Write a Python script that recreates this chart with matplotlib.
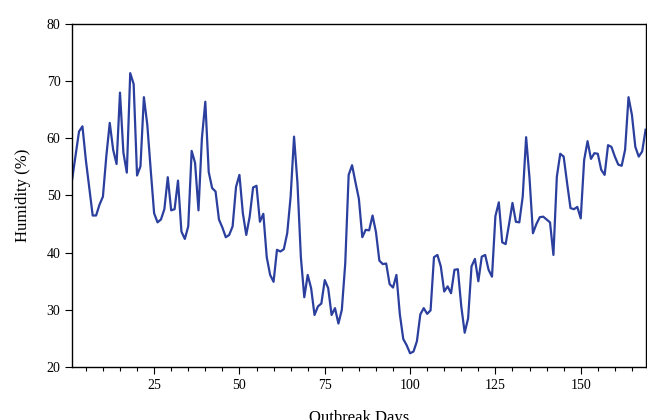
# Humidity over outbreak days - line chart
import numpy as np
import matplotlib.pyplot as plt
from matplotlib.ticker import MultipleLocator

# daily humidity values (days 1..169)
days = np.arange(1, 170)
humidity = [
    52.9, 57.0, 61.2, 62.1, 56.2, 51.4, 46.5, 46.5, 48.4, 49.8,
    56.9, 62.7, 58.0, 55.5, 68.0, 57.5, 54.0, 71.4, 69.5, 53.5,
    55.1, 67.2, 62.4, 54.5, 46.9, 45.3, 45.8, 47.6, 53.2, 47.4,
    47.6, 52.6, 43.7, 42.4, 44.6, 57.8, 55.7, 47.4, 60.0, 66.4,
    54.1, 51.3, 50.7, 45.8, 44.4, 42.7, 43.1, 44.6, 51.5, 53.6,
    46.9, 43.1, 46.3, 51.4, 51.7, 45.4, 46.8, 39.2, 36.1, 34.9,
    40.5, 40.2, 40.6, 43.4, 49.8, 60.3, 52.2, 39.2, 32.2, 36.1,
    33.8, 29.1, 30.6, 31.1, 35.2, 33.8, 29.1, 30.3, 27.6, 30.0,
    38.1, 53.6, 55.3, 52.3, 49.4, 42.7, 44.0, 43.9, 46.5, 43.6,
    38.6, 38.0, 38.1, 34.5, 33.9, 36.1, 29.2, 24.9, 23.8, 22.4,
    22.7, 24.5, 29.2, 30.3, 29.3, 29.9, 39.2, 39.6, 37.6, 33.2,
    34.1, 32.9, 37.0, 37.1, 30.6, 26.0, 28.5, 37.6, 38.9, 35.0,
    39.3, 39.6, 37.0, 35.8, 46.4, 48.8, 41.8, 41.5, 45.0, 48.7,
    45.4, 45.3, 49.8, 60.2, 53.0, 43.4, 45.0, 46.2, 46.3, 45.8,
    45.3, 39.6, 53.3, 57.3, 56.8, 52.2, 47.8, 47.6, 48.0, 46.0,
    56.2, 59.5, 56.4, 57.4, 57.3, 54.5, 53.6, 58.8, 58.5, 56.8,
    55.4, 55.2, 58.0, 67.2, 64.1, 58.5, 56.8, 57.7, 61.5,
]

plt.rcParams['font.family'] = ['Liberation Serif', 'DejaVu Serif']

fig = plt.figure(figsize=(6.47, 4.2), dpi=100)
ax = fig.add_axes([0.1116, 0.1262, 0.8862, 0.8167])

ax.plot(days, humidity, color='#2b3f9e', linewidth=1.6)

ax.set_xlim(1, 169)
ax.set_ylim(20, 80)
ax.xaxis.set_major_locator(MultipleLocator(25))
ax.xaxis.set_minor_locator(MultipleLocator(5))
ax.yaxis.set_major_locator(MultipleLocator(10))

ax.tick_params(axis='both', which='major', length=5, width=0.8, labelsize=10, direction='out')
ax.tick_params(axis='x', which='minor', length=3, width=0.8)

for s in ax.spines.values():
    s.set_linewidth(1.0)

ax.set_xlabel('Outbreak Days', fontsize=12, labelpad=13)
ax.set_ylabel('Humidity (%)', fontsize=12, labelpad=11)

plt.savefig('out.png', dpi=100)
